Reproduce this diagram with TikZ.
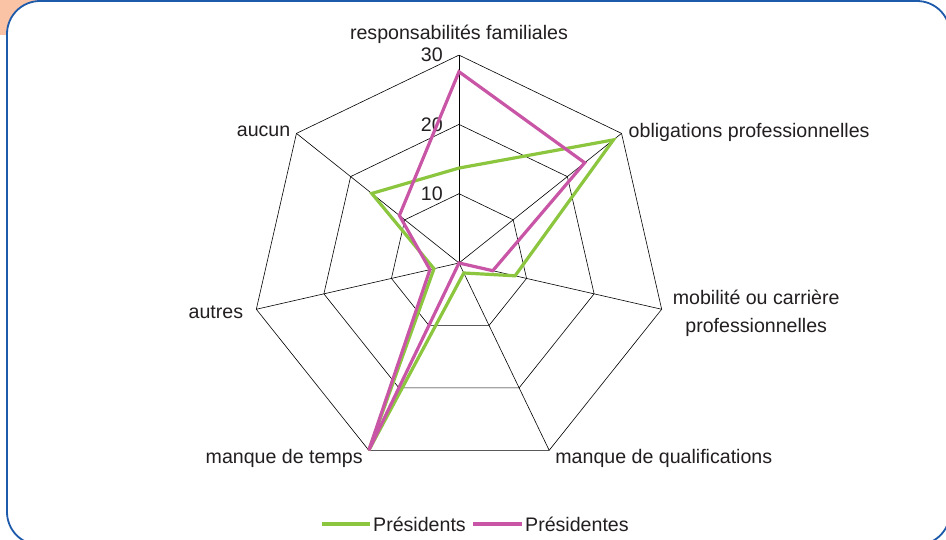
\documentclass[tikz,border=0pt]{standalone}
\usepackage{fontspec}
\setmainfont{Liberation Sans}
\definecolor{frameblue}{RGB}{30,90,170}
\definecolor{cornerpeach}{RGB}{250,195,165}
\definecolor{presgreen}{RGB}{140,198,63}
\definecolor{prespink}{RGB}{200,85,165}
\definecolor{labelgray}{RGB}{35,31,32}
\tikzset{
  gridline/.style={draw=black, line width=0.6pt},
  serie/.style={line width=3.2pt},
  axislabel/.style={inner sep=0pt, text=labelgray, font=\fontsize{19.6}{27.5}\selectfont},
}

\begin{document}
\begin{tikzpicture}[x=6.93pt,y=6.93pt]
  \useasboundingbox (-459pt,-276pt) rectangle (487pt,263pt);
  \clip (-459pt,-276pt) rectangle (487pt,263pt);
  % frame
  \fill[cornerpeach] (-459pt,263pt) rectangle (-419pt,228pt);
  \draw[frameblue, line width=1.8pt, fill=white, rounded corners=33pt] (-452pt,262pt) rectangle (491pt,-282pt);
  % web
  \coordinate (c) at (0,0);
  \draw[gridline] (90:10) -- (38.57:10) -- (-12.86:10) -- (-64.29:10) -- (-115.71:10) -- (-167.14:10) -- (141.43:10) -- cycle;
  \draw[gridline] (90:20) -- (38.57:20) -- (-12.86:20) -- (-64.29:20) -- (-115.71:20) -- (-167.14:20) -- (141.43:20) -- cycle;
  \draw[gridline] (90:30) -- (38.57:30) -- (-12.86:30) -- (-64.29:30) -- (-115.71:30) -- (-167.14:30) -- (141.43:30) -- cycle;
  \draw[gridline] (c) -- (90:30);
  \draw[gridline] (c) -- (38.57:30);
  \draw[gridline] (c) -- (-12.86:30);
  \draw[gridline] (c) -- (-64.29:30);
  \draw[gridline] (c) -- (-115.71:30);
  \draw[gridline] (c) -- (-167.14:30);
  \draw[gridline] (c) -- (141.43:30);
  % scale
  \node[axislabel, anchor=east, xshift=-16pt] (t10) at (90:10) {10};
  \node[axislabel, anchor=east, xshift=-16pt] (t20) at (90:20) {20};
  \node[axislabel, anchor=east, xshift=-16pt] (t30) at (90:30) {30};
  % axis labels
  \node[axislabel, anchor=base, yshift=16pt] (famil) at (90:30) {responsabilités familiales};
  \node[axislabel, anchor=west, xshift=7pt, yshift=1pt] (oblig) at (38.57:30) {obligations professionnelles};
  \node[axislabel, anchor=west, xshift=11pt, yshift=-4pt, align=center] (mobil) at (-12.86:30) {mobilité ou carrière\\professionnelles};
  \node[axislabel, anchor=west, xshift=6pt, yshift=-8pt] (qualif) at (-64.29:30) {manque de qualifications};
  \node[axislabel, anchor=east, xshift=-6pt, yshift=-8pt] (temps) at (-115.71:30) {manque de temps};
  \node[axislabel, anchor=east, xshift=-13pt, yshift=-3pt] (autres) at (-167.14:30) {autres};
  \node[axislabel, anchor=east, xshift=-6pt, yshift=2pt] (aucun) at (141.43:30) {aucun};
  % series
  \draw[serie, presgreen] (90:13.7) -- (38.57:28.5) -- (-12.86:8.3) -- (-64.29:1.6) -- (-115.71:30) -- (-167.14:3.7) -- (141.43:16.1) -- cycle;
  \draw[serie, prespink] (90:27.6) -- (38.57:23.2) -- (-12.86:5) -- (c) -- (-115.71:30) -- (-167.14:4.3) -- (141.43:11) -- cycle;
  % legend
  \coordinate (lgAstart) at (-137pt,-261pt);
  \node[axislabel, anchor=west] (lgA) at (-86pt,-261pt) {Présidents};
  \draw[serie, presgreen] (lgAstart) -- ([xshift=-3pt]lgA.west);
  \coordinate (lgBstart) at (14pt,-261pt);
  \node[axislabel, anchor=west] (lgB) at (66pt,-261pt) {Présidentes};
  \draw[serie, prespink] (lgBstart) -- ([xshift=-3pt]lgB.west);
\end{tikzpicture}
\end{document}
